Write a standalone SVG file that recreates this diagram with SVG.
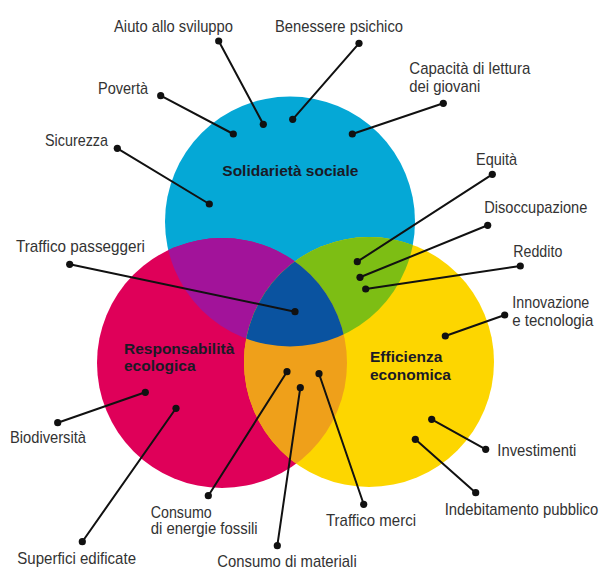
<svg xmlns="http://www.w3.org/2000/svg" width="599" height="572" viewBox="0 0 599 572">
<defs>
<style>
.lbl{font-family:"Liberation Sans",Arial,sans-serif;font-size:17px;fill:#333333}
.end{text-anchor:end}
.ttl{font-family:"Liberation Sans",Arial,sans-serif;font-size:15.5px;font-weight:bold;fill:#1a1a26}
.con line{stroke:#111111;stroke-width:2;stroke-linecap:round}
.con circle{fill:#111111}
</style>
<clipPath id="cBlue"><circle cx="290" cy="221.5" r="125"/></clipPath>
<clipPath id="cPink"><circle cx="222" cy="363" r="125"/></clipPath>
<clipPath id="cYellow"><circle cx="369" cy="362" r="125"/></clipPath>
</defs>
<rect width="599" height="572" fill="#ffffff"/>
<g id="solidarieta">
<circle cx="290" cy="221.5" r="125" fill="#05A8D6"/>
</g>
<g id="responsabilita">
<circle cx="222" cy="363" r="125" fill="#DF0059"/>
</g>
<g id="efficienza">
<circle cx="369" cy="362" r="125" fill="#FDD600"/>
</g>
<g id="overlap-blue-pink" clip-path="url(#cBlue)">
<circle cx="222" cy="363" r="125" fill="#A2139A"/>
</g>
<g id="overlap-blue-yellow" clip-path="url(#cBlue)">
<circle cx="369" cy="362" r="125" fill="#7DBE14"/>
</g>
<g id="overlap-pink-yellow" clip-path="url(#cPink)">
<circle cx="369" cy="362" r="125" fill="#EFA01A"/>
</g>
<g id="overlap-all" clip-path="url(#cBlue)">
<g clip-path="url(#cPink)">
<circle cx="369" cy="362" r="125" fill="#0A53A0"/>
</g>
</g>
<g id="titles">
<text class="ttl" x="222.3" y="176">Solidarietà sociale</text>
<text class="ttl" x="124" y="354">Responsabilità</text>
<text class="ttl" x="124" y="370.7">ecologica</text>
<text class="ttl" x="370" y="362.3">Efficienza</text>
<text class="ttl" x="370" y="380">economica</text>
</g>
<g id="connectors" class="con">
<line x1="218.7" y1="41" x2="263.3" y2="124.3"/>
<line x1="359" y1="43.3" x2="292.7" y2="119.3"/>
<line x1="443.3" y1="103.3" x2="352.3" y2="134"/>
<line x1="160.7" y1="95.7" x2="233.3" y2="134"/>
<line x1="117.3" y1="148.3" x2="209.3" y2="204"/>
<line x1="492.3" y1="174.3" x2="357.3" y2="261.7"/>
<line x1="487.7" y1="225.3" x2="360" y2="277.3"/>
<line x1="520.3" y1="266" x2="365.7" y2="289"/>
<line x1="69.7" y1="264.3" x2="295" y2="311.7"/>
<line x1="504.7" y1="315" x2="445.3" y2="336"/>
<line x1="57.7" y1="422.7" x2="145.3" y2="392.3"/>
<line x1="82.3" y1="541.7" x2="176" y2="408.3"/>
<line x1="208.3" y1="495.7" x2="287" y2="371.7"/>
<line x1="277.3" y1="545.7" x2="300.3" y2="387.7"/>
<line x1="363.7" y1="504.3" x2="319" y2="373.7"/>
<line x1="485.7" y1="449.3" x2="431.7" y2="419.3"/>
<line x1="475.7" y1="492.7" x2="415.3" y2="439.3"/>
<circle cx="218.7" cy="41" r="3.6"/><circle cx="263.3" cy="124.3" r="3.6"/>
<circle cx="359" cy="43.3" r="3.6"/><circle cx="292.7" cy="119.3" r="3.6"/>
<circle cx="443.3" cy="103.3" r="3.6"/><circle cx="352.3" cy="134" r="3.6"/>
<circle cx="160.7" cy="95.7" r="3.6"/><circle cx="233.3" cy="134" r="3.6"/>
<circle cx="117.3" cy="148.3" r="3.6"/><circle cx="209.3" cy="204" r="3.6"/>
<circle cx="492.3" cy="174.3" r="3.6"/><circle cx="357.3" cy="261.7" r="3.6"/>
<circle cx="487.7" cy="225.3" r="3.6"/><circle cx="360" cy="277.3" r="3.6"/>
<circle cx="520.3" cy="266" r="3.6"/><circle cx="365.7" cy="289" r="3.6"/>
<circle cx="69.7" cy="264.3" r="3.6"/><circle cx="295" cy="311.7" r="3.6"/>
<circle cx="504.7" cy="315" r="3.6"/><circle cx="445.3" cy="336" r="3.6"/>
<circle cx="57.7" cy="422.7" r="3.6"/><circle cx="145.3" cy="392.3" r="3.6"/>
<circle cx="82.3" cy="541.7" r="3.6"/><circle cx="176" cy="408.3" r="3.6"/>
<circle cx="208.3" cy="495.7" r="3.6"/><circle cx="287" cy="371.7" r="3.6"/>
<circle cx="277.3" cy="545.7" r="3.6"/><circle cx="300.3" cy="387.7" r="3.6"/>
<circle cx="363.7" cy="504.3" r="3.6"/><circle cx="319" cy="373.7" r="3.6"/>
<circle cx="485.7" cy="449.3" r="3.6"/><circle cx="431.7" cy="419.3" r="3.6"/>
<circle cx="475.7" cy="492.7" r="3.6"/><circle cx="415.3" cy="439.3" r="3.6"/>
</g>
<g id="labels">
<text class="lbl" x="114" y="32" textLength="119" lengthAdjust="spacingAndGlyphs">Aiuto allo sviluppo</text>
<text class="lbl" x="275" y="32" textLength="128" lengthAdjust="spacingAndGlyphs">Benessere psichico</text>
<text class="lbl" x="409.3" y="74" textLength="121" lengthAdjust="spacingAndGlyphs">Capacità di lettura</text>
<text class="lbl" x="409.3" y="91.5" textLength="71" lengthAdjust="spacingAndGlyphs">dei giovani</text>
<text class="lbl" x="98" y="94" textLength="50" lengthAdjust="spacingAndGlyphs">Povertà</text>
<text class="lbl" x="45" y="145.7" textLength="63" lengthAdjust="spacingAndGlyphs">Sicurezza</text>
<text class="lbl" x="476" y="165" textLength="41" lengthAdjust="spacingAndGlyphs">Equità</text>
<text class="lbl end" x="587.3" y="213.3" textLength="103" lengthAdjust="spacingAndGlyphs">Disoccupazione</text>
<text class="lbl" x="513.3" y="256.7" textLength="49" lengthAdjust="spacingAndGlyphs">Reddito</text>
<text class="lbl" x="16" y="251.7" textLength="129" lengthAdjust="spacingAndGlyphs">Traffico passeggeri</text>
<text class="lbl end" x="589.3" y="308.3" textLength="77" lengthAdjust="spacingAndGlyphs">Innovazione</text>
<text class="lbl end" x="593.3" y="326" textLength="81" lengthAdjust="spacingAndGlyphs">e tecnologia</text>
<text class="lbl" x="10" y="443.3" textLength="76" lengthAdjust="spacingAndGlyphs">Biodiversità</text>
<text class="lbl end" x="576.3" y="456" textLength="79" lengthAdjust="spacingAndGlyphs">Investimenti</text>
<text class="lbl end" x="598.3" y="515" textLength="153.6" lengthAdjust="spacingAndGlyphs">Indebitamento pubblico</text>
<text class="lbl" x="326" y="525.7" textLength="90" lengthAdjust="spacingAndGlyphs">Traffico merci</text>
<text class="lbl" x="150.7" y="517.7" textLength="61" lengthAdjust="spacingAndGlyphs">Consumo</text>
<text class="lbl" x="150.7" y="534.3" textLength="107" lengthAdjust="spacingAndGlyphs">di energie fossili</text>
<text class="lbl" x="17.3" y="564.3" textLength="118.7" lengthAdjust="spacingAndGlyphs">Superfici edificate</text>
<text class="lbl" x="217.3" y="566.7" textLength="139.4" lengthAdjust="spacingAndGlyphs">Consumo di materiali</text>
</g>
</svg>
